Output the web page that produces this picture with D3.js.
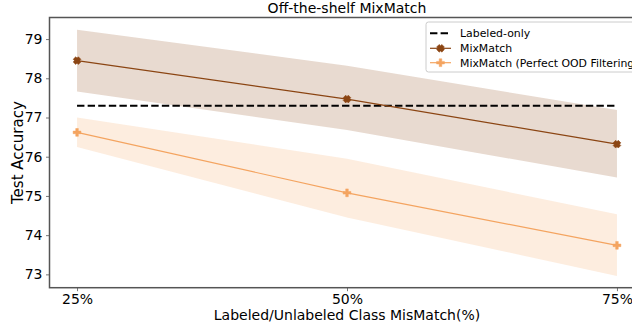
<!DOCTYPE html>
<html><head><meta charset="utf-8">
<script src="https://cdn.jsdelivr.net/npm/d3@7"></script>
<style>
html,body{margin:0;padding:0;background:#fff;overflow:hidden;}
svg{display:block;font-family:"DejaVu Sans",sans-serif;}
</style></head>
<body>
<svg id="chart" width="632" height="323"></svg>
<script>
const categories = [25, 50, 75];
const tickLabels = ["25%", "50%", "75%"];
const yTicks = [73, 74, 75, 76, 77, 78, 79];
const labeledOnly = 77.3;
const mixMatch = [78.45, 77.47, 76.32];
const mixMatchLow = [77.66, 76.68, 75.47];
const mixMatchHigh = [79.24, 78.32, 77.19];
const perfect = [76.62, 75.08, 73.74];
const perfectLow = [76.25, 74.45, 72.96];
const perfectHigh = [77.0, 75.95, 74.53];
const seriesNames = ["Labeled-only", "MixMatch", "MixMatch (Perfect OOD Filtering)"];

const svg = d3.select("#chart");
const L = 49.5, R = 644.5, T = 17.5, B = 287.7;
const x = d3.scaleLinear().domain([22.45, 77.55]).range([L, R]);
const y = d3.scaleLinear().domain([72.66, 79.55]).range([B, T]);

const brown = "#8b4513", orange = "#f4a460";

svg.append("defs").append("clipPath").attr("id","clip")
  .append("rect").attr("x",L).attr("y",T).attr("width",R-L).attr("height",B-T);
const plot = svg.append("g").attr("clip-path","url(#clip)");

function band(lo, hi, color){
  const data = categories.map((c,i)=>({c, lo:lo[i], hi:hi[i]}));
  plot.append("path").datum(data)
    .attr("d", d3.area().x(d=>x(d.c)).y0(d=>y(d.lo)).y1(d=>y(d.hi)))
    .attr("fill", color).attr("fill-opacity", 0.2).attr("stroke","none");
}
band(mixMatchLow, mixMatchHigh, brown);
band(perfectLow, perfectHigh, orange);

plot.append("line")
  .attr("x1", x(categories[0])).attr("x2", x(categories[2]))
  .attr("y1", y(labeledOnly)).attr("y2", y(labeledOnly))
  .attr("stroke","#000").attr("stroke-width",2).attr("stroke-dasharray","7.4,3.2");

const xMarker = "M-1.3,-3.9 L0,-2.6 L1.3,-3.9 L3.9,-1.3 L2.6,0 L3.9,1.3 L1.3,3.9 L0,2.6 L-1.3,3.9 L-3.9,1.3 L-2.6,0 L-3.9,-1.3 Z";
const pMarker = "M-1.3,-3.9 L1.3,-3.9 L1.3,-1.3 L3.9,-1.3 L3.9,1.3 L1.3,1.3 L1.3,3.9 L-1.3,3.9 L-1.3,1.3 L-3.9,1.3 L-3.9,-1.3 L-1.3,-1.3 Z";

function series(vals, color, marker){
  const line = d3.line().x((d,i)=>x(categories[i])).y(d=>y(d));
  plot.append("path").datum(vals).attr("d", line).attr("fill","none")
    .attr("stroke", color).attr("stroke-width", 1.2);
  plot.selectAll(null).data(vals).enter().append("path")
    .attr("d", marker)
    .attr("transform",(d,i)=>`translate(${x(categories[i])},${y(d)})`)
    .attr("fill", color).attr("stroke", color).attr("stroke-width",0.5);
}
series(mixMatch, brown, xMarker);
series(perfect, orange, pMarker);

const axisColor = "#555";
const yAxis = svg.append("g").attr("transform",`translate(${L},0)`)
  .call(d3.axisLeft(y).tickValues(yTicks).tickFormat(d3.format("d")).tickSize(3.5).tickPadding(3.5));
const xAxis = svg.append("g").attr("transform",`translate(0,${B})`)
  .call(d3.axisBottom(x).tickValues(categories).tickFormat((d,i)=>tickLabels[i]).tickSize(3.5).tickPadding(3));
[yAxis, xAxis].forEach(g=>{
  g.select(".domain").remove();
  g.selectAll(".tick line").attr("stroke", axisColor).attr("stroke-width",0.8);
  g.selectAll(".tick text").attr("fill","#000").style("font-size","14px").style("font-family","DejaVu Sans");
});
svg.append("rect").attr("x",L).attr("y",T).attr("width",R-L).attr("height",B-T)
  .attr("fill","none").attr("stroke",axisColor).attr("stroke-width",1.5);

svg.append("text").attr("x",(L+R)/2).attr("y",T-5).attr("text-anchor","middle")
  .style("font-size","14px").text("Off-the-shelf MixMatch");
svg.append("text").attr("x",(L+R)/2).attr("y",320).attr("text-anchor","middle")
  .style("font-size","14px").text("Labeled/Unlabeled Class MisMatch(%)");
svg.append("text").attr("transform",`translate(23,${(T+B)/2}) rotate(-90)`).attr("text-anchor","middle")
  .style("font-size","15px").text("Test Accuracy");

const lg = svg.append("g");
lg.append("rect").attr("x",426).attr("y",22).attr("width",240).attr("height",50).attr("rx",2.5)
  .attr("fill","#fff").attr("fill-opacity",0.8).attr("stroke","#ccc").attr("stroke-width",1);
const rows = [33.3, 48.3, 62.7];
const colors = ["#000", brown, orange];
seriesNames.forEach((name,i)=>{
  const ry = rows[i];
  const ln = lg.append("line").attr("x1",430).attr("x2",451).attr("y1",ry).attr("y2",ry)
    .attr("stroke",colors[i]).attr("stroke-width", i===0?2:1.2);
  if(i===0) ln.attr("stroke-dasharray","7.4,3.2");
  if(i>0) lg.append("path").attr("d", i===1?xMarker:pMarker)
    .attr("transform",`translate(440.5,${ry})`).attr("fill",colors[i]).attr("stroke",colors[i]).attr("stroke-width",0.5);
  lg.append("text").attr("x",460).attr("y",ry+3.8).style("font-size","10.9px").text(name);
});
</script>
</body></html>
